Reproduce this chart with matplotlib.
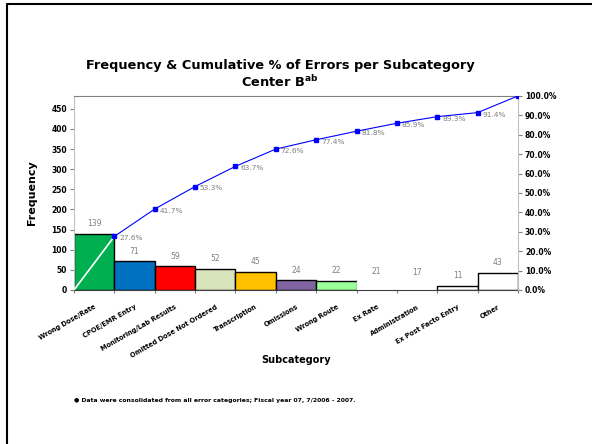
import numpy as np
import matplotlib
matplotlib.use("Agg")
import matplotlib.pyplot as plt
from matplotlib.lines import Line2D

# error counts per subcategory, sorted (Other last)
subcats = ["Wrong Dose/Rate", "CPOE/EMR Entry", "Monitoring/Lab Results",
           "Omitted Dose Not Ordered", "Transcription", "Omissions",
           "Wrong Route", "Ex Rate", "Administration",
           "Ex Post Facto Entry", "Other"]
counts = [139, 71, 59, 52, 45, 24, 22, 21, 17, 11, 43]
cum_pct = [27.6, 41.7, 53.3, 63.7, 72.6, 77.4, 81.8, 85.9, 89.3, 91.4, 100.0]
bar_colors = ["#00B050", "#0070C0", "#FF0000", "#D8E4BC", "#FFC000", "#8064A2",
              "#99FF99", "white", "white", "white", "white"]
edge_colors = ["black"] * 7 + ["white", "white", "black", "black"]

fig = plt.figure(figsize=(5.92, 4.44), dpi=100)
ax = fig.add_axes([0.125, 0.347, 0.75, 0.437])

x = np.arange(len(counts))
ax.bar(x + 0.5, counts, width=1.0, color=bar_colors, edgecolor=edge_colors, linewidth=1.0, zorder=2)
for xi, c in zip(x, counts):
    ax.text(xi + 0.5, c + 14, str(c), ha="center", va="bottom", fontsize=5.5, color="#7f7f7f")

ax.set_xlim(0, len(counts))
ax.set_ylim(0, 482)
ax.set_yticks(range(0, 451, 50))
ax.set_xticks(np.arange(len(counts) + 1))
ax.set_xticklabels([])
ax.set_xticks(x + 0.5, minor=True)
ax.set_xticklabels(subcats, minor=True, rotation=30, ha="right", rotation_mode="anchor",
                   fontsize=4.8, fontweight="bold")
ax.tick_params(axis="x", which="minor", length=0, pad=10)
ax.tick_params(axis="x", which="major", length=4, color="#808080", direction="inout")
ax.tick_params(axis="y", labelsize=5.5, length=3, color="#808080", pad=2)
for lbl in ax.get_yticklabels():
    lbl.set_fontweight("bold")
ax.spines["left"].set_color("#bfbfbf")
ax.spines["top"].set_color("#808080")
ax.spines["right"].set_visible(False)
ax.spines["bottom"].set_color("#404040")
ax.set_ylabel("Frequency", fontsize=8, fontweight="bold", labelpad=10)
ax.set_xlabel("Subcategory", fontsize=7, fontweight="bold")
ax.xaxis.set_label_coords(0.5, -0.335)

# cumulative percentage on the secondary axis
ax2 = ax.twinx()
ax2.set_ylim(0, 100)
ax2.set_yticks(range(0, 101, 10))
ax2.set_yticklabels(["%.1f%%" % v for v in range(0, 101, 10)], fontsize=5.5, fontweight="bold")
ax2.tick_params(axis="y", length=3, color="#808080", pad=2)
ax2.spines["right"].set_color("#bfbfbf")
for s in ["left", "top", "bottom"]:
    ax2.spines[s].set_visible(False)

ax2.plot([0, 1], [0, cum_pct[0]], color="white", lw=1.2, zorder=3)
ax2.plot(x + 1, cum_pct, color="#0000FF", lw=0.8, marker="s", ms=3.5, zorder=4)
for xi, p in zip(x[:-1], cum_pct[:-1]):
    ax2.text(xi + 1.12, p - 1.0, "%.1f%%" % p, ha="left", va="center", fontsize=5.3, color="#7f7f7f")

fig.text(0.473, 0.853, "Frequency & Cumulative % of Errors per Subcategory",
         ha="center", va="center", fontsize=9.3, fontweight="bold")
fig.text(0.473, 0.815, r"Center B$^{\mathbf{ab}}$", ha="center", va="center",
         fontsize=9.3, fontweight="bold")

fig.text(0.125, 0.099, "\u25cf Data were consolidated from all error categories; Fiscal year 07, 7/2006 - 2007.",
         ha="left", va="center", fontsize=4.4, fontweight="bold")

# outer frame (only the top and left edges fall inside the image)
fig.add_artist(Line2D([0.012, 0.012, 1.1], [-0.1, 0.99, 0.99], transform=fig.transFigure,
                      color="black", lw=1.5))

fig.savefig("out.png", dpi=100)
